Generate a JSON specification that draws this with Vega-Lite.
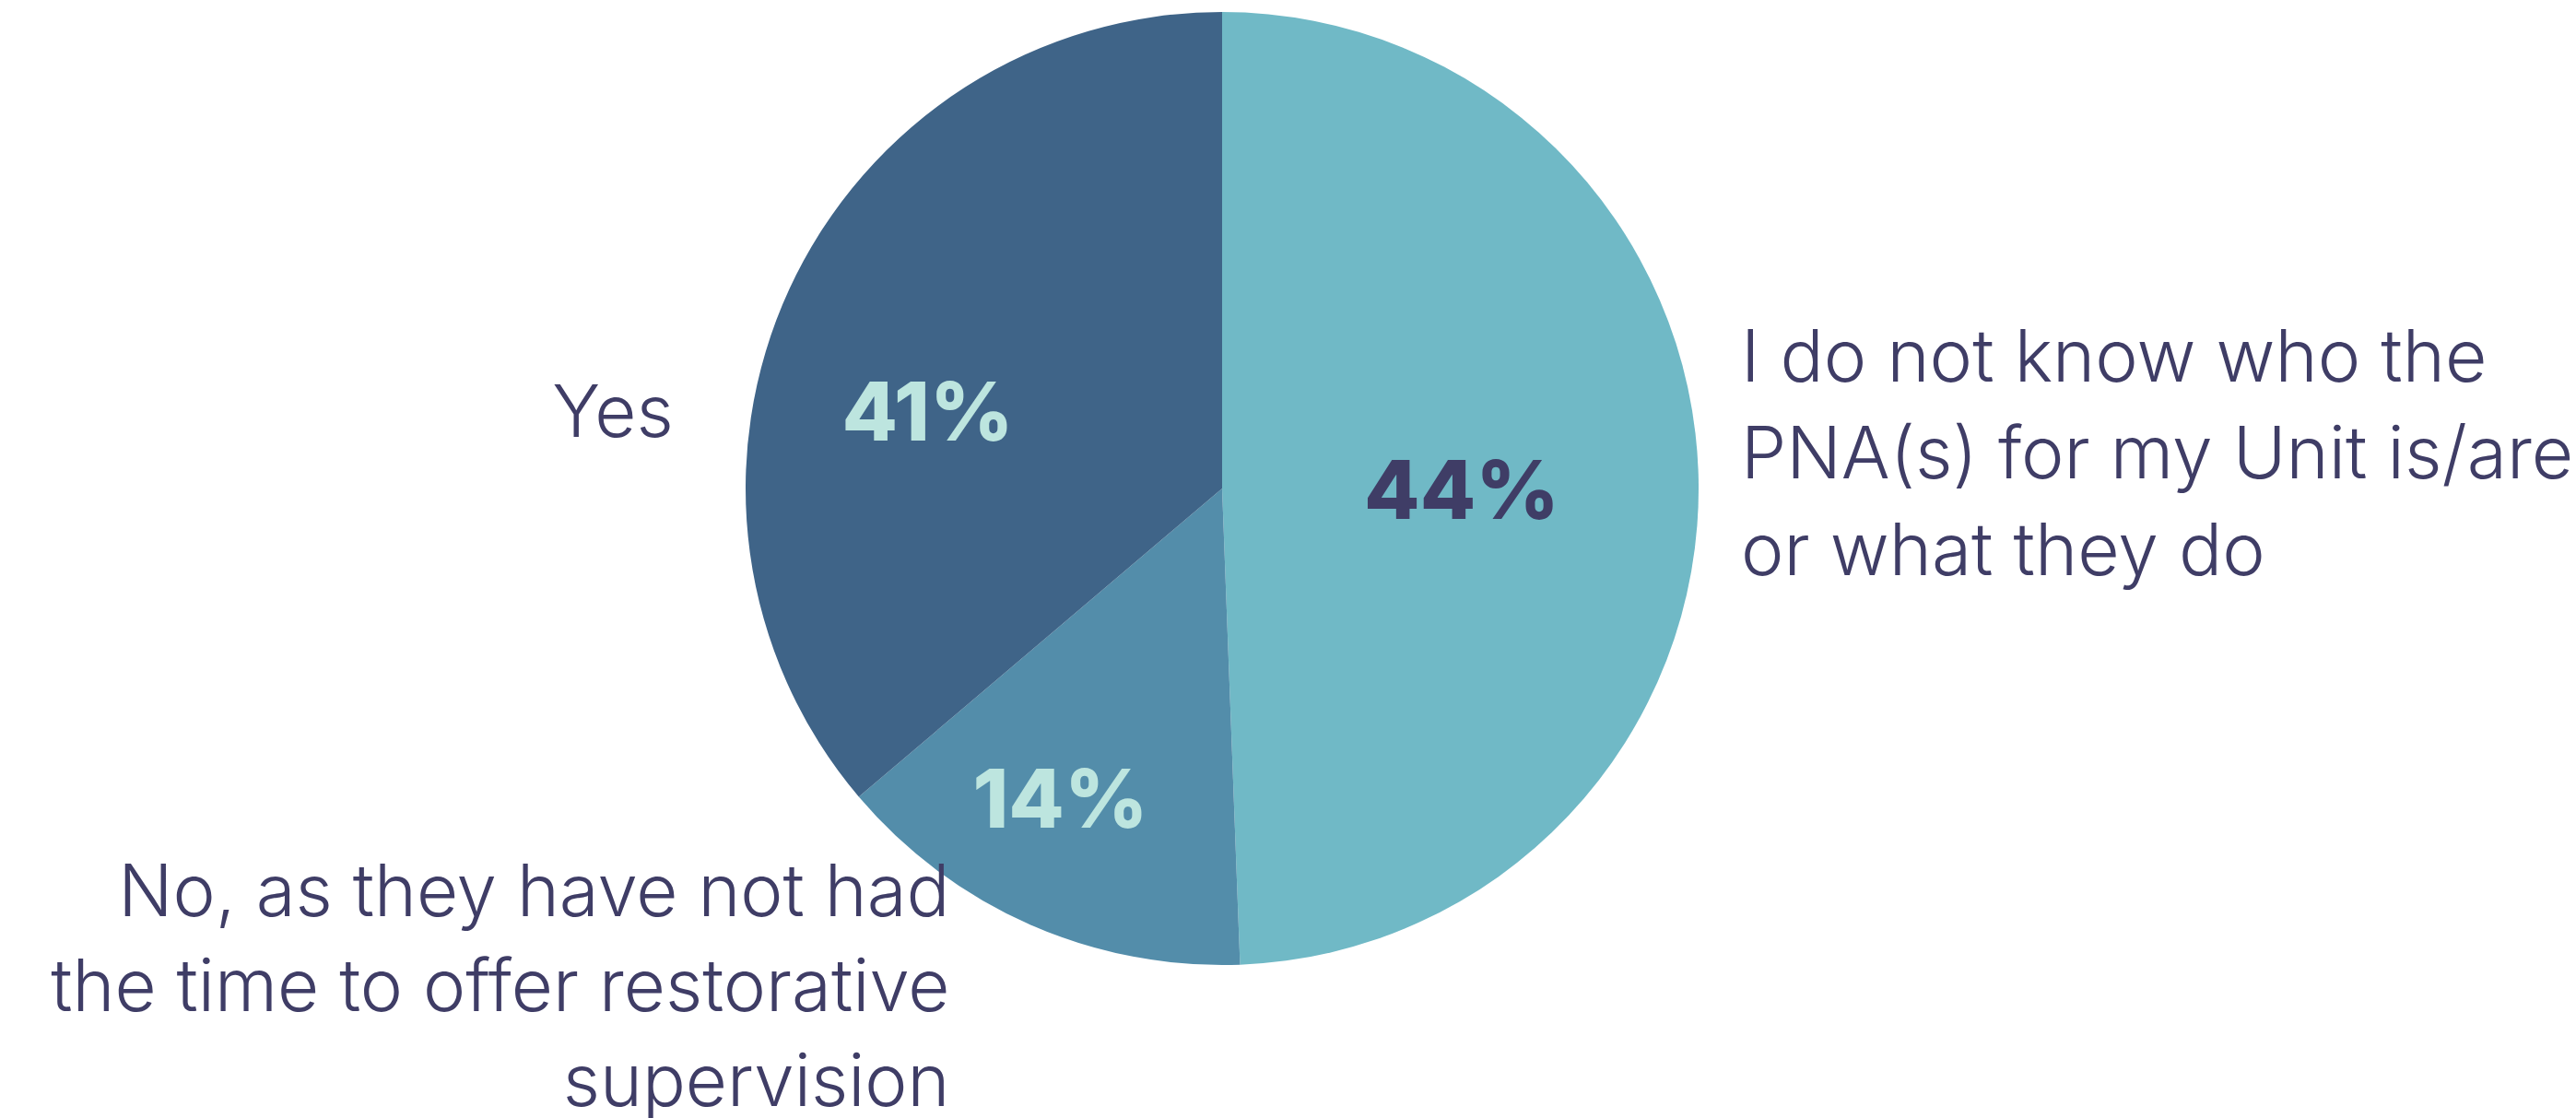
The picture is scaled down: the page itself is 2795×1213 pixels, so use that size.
{
  "$schema": "https://vega.github.io/schema/vega-lite/v6.json",
  "width": 2652,
  "height": 1060,
  "autosize": {"type": "none"},
  "padding": {"left": 0, "top": 0, "right": 143, "bottom": 153},
  "background": "white",
  "config": {"view": {"stroke": null}, "text": {"font": "Inter"}},
  "data": {
    "values": [
      {"answer": "I do not know who the PNA(s) for my Unit is/are or what they do", "label": ["I do not know who the", "PNA(s) for my Unit is/are", "or what they do"], "value": 49.4, "pct": "44%", "ord": 1},
      {"answer": "No, as they have not had the time to offer restorative supervision", "label": ["No, as they have not had", "the time to offer restorative", "supervision"], "value": 14.4, "pct": "14%", "ord": 2},
      {"answer": "Yes", "label": ["Yes"], "value": 36.2, "pct": "41%", "ord": 3}
    ]
  },
  "transform": [
    {"stack": "value", "groupby": [], "sort": [{"field": "ord", "order": "ascending"}], "as": ["v0", "v1"]},
    {"calculate": "(datum.v0 + datum.v1) / 2", "as": "mid"}
  ],
  "layer": [
    {
      "mark": {"type": "arc", "radius": 517},
      "encoding": {
        "theta": {"field": "v0", "type": "quantitative", "scale": {"domain": [0, 100]}},
        "theta2": {"field": "v1"},
        "color": {
          "field": "answer", "type": "nominal", "legend": null,
          "scale": {
            "domain": ["I do not know who the PNA(s) for my Unit is/are or what they do", "No, as they have not had the time to offer restorative supervision", "Yes"],
            "range": ["#70B9C6", "#538DAA", "#3F6488"]
          }
        }
      }
    },
    {
      "transform": [{"filter": "datum.ord == 1"}],
      "mark": {"type": "text", "radius": 260, "dy": 38, "align": "center", "baseline": "alphabetic", "fontSize": 88, "fontWeight": 800, "color": "#3F3D66"},
      "encoding": {"theta": {"field": "mid", "type": "quantitative", "scale": {"domain": [0, 100]}}, "text": {"field": "pct"}}
    },
    {
      "transform": [{"filter": "datum.ord == 2"}],
      "mark": {"type": "text", "radius": 381, "dx": -22, "dy": 19, "align": "center", "baseline": "alphabetic", "fontSize": 88, "fontWeight": 800, "color": "#BDE5DF"},
      "encoding": {"theta": {"field": "mid", "type": "quantitative", "scale": {"domain": [0, 100]}}, "text": {"field": "pct"}}
    },
    {
      "transform": [{"filter": "datum.ord == 3"}],
      "mark": {"type": "text", "radius": 330, "dx": -20, "dy": 87, "align": "center", "baseline": "alphabetic", "fontSize": 88, "fontWeight": 800, "color": "#BDE5DF"},
      "encoding": {"theta": {"field": "mid", "type": "quantitative", "scale": {"domain": [0, 100]}}, "text": {"field": "pct"}}
    },
    {
      "transform": [{"filter": "datum.ord == 1"}],
      "mark": {"type": "text", "radius": 563, "dy": -105, "align": "left", "baseline": "alphabetic", "fontSize": 78.5, "fontWeight": 300, "lineHeight": 105, "color": "#3F3D66"},
      "encoding": {"theta": {"field": "mid", "type": "quantitative", "scale": {"domain": [0, 100]}}, "text": {"field": "label"}}
    },
    {
      "transform": [{"filter": "datum.ord == 2"}],
      "mark": {"type": "text", "radius": 510, "dx": -90, "dy": -3, "align": "right", "baseline": "alphabetic", "fontSize": 78, "fontWeight": 300, "lineHeight": 103, "color": "#3F3D66"},
      "encoding": {"theta": {"field": "mid", "type": "quantitative", "scale": {"domain": [0, 100]}}, "text": {"field": "label"}}
    },
    {
      "transform": [{"filter": "datum.ord == 3"}],
      "mark": {"type": "text", "radius": 656, "dy": 220, "align": "right", "baseline": "alphabetic", "fontSize": 78, "fontWeight": 300, "color": "#3F3D66"},
      "encoding": {"theta": {"field": "mid", "type": "quantitative", "scale": {"domain": [0, 100]}}, "text": {"field": "label"}}
    }
  ]
}
